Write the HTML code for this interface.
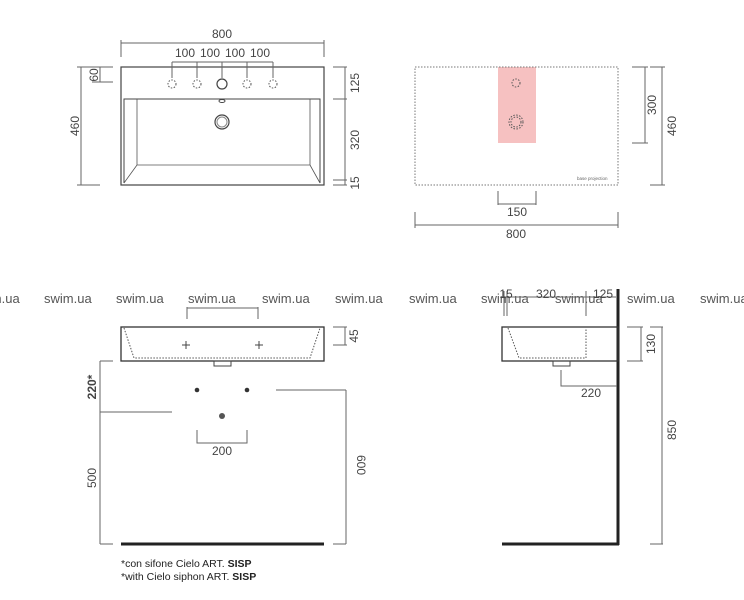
<!DOCTYPE html>
<html><head><meta charset="utf-8"><style>
html,body{margin:0;padding:0;background:#fff;}
svg{display:block;font-family:"Liberation Sans",sans-serif;}
.d{stroke:#666;stroke-width:1;fill:none}
.t{fill:#444;font-size:12px;text-anchor:middle}
.w{fill:#555;font-size:13px}
</style></head><body>
<svg width="744" height="600" viewBox="0 0 744 600" xmlns="http://www.w3.org/2000/svg">
<!-- TOP LEFT -->
<rect x="121" y="67" width="203" height="118" fill="none" stroke="#444" stroke-width="1.2"/>
<path d="M124 183 V99 H320 V183" fill="none" stroke="#444"/>
<path d="M137 99 V165 H310 V99 M124 183 L137 165 M320 183 L310 165" fill="none" stroke="#555" stroke-width="0.8"/>
<g class="d">
<path d="M121 57 V40 M324 57 V40 M121 43 H324"/>
<path d="M172 78 V62 M197 78 V62 M222 78 V62 M247 78 V62 M273 78 V62 M172 62 H273"/>
<path d="M77 67 H100 M77 185 H100 M81 67 V185"/>
<path d="M92 67 H113 M92 82 H113 M100 67 V82"/>
<path d="M333 67 H347 M333 99 H347 M333 180 H347 M333 185 H347 M345 67 V185"/>
</g>
<g stroke="#555" fill="none" stroke-dasharray="1.5 1.5"><circle cx="172" cy="84" r="4"/><circle cx="197" cy="84" r="4"/><circle cx="247" cy="84" r="4"/><circle cx="273" cy="84" r="4"/></g>
<circle cx="222" cy="84" r="5" fill="none" stroke="#444" stroke-width="1.2"/>
<ellipse cx="222" cy="101" rx="3" ry="1.5" fill="none" stroke="#444"/>
<circle cx="222" cy="122" r="7" fill="none" stroke="#444" stroke-width="1.2"/>
<circle cx="222" cy="122" r="5" fill="none" stroke="#888"/>
<text class="t" x="222" y="38">800</text>
<text class="t" x="185" y="57">100</text><text class="t" x="210" y="57">100</text><text class="t" x="235" y="57">100</text><text class="t" x="260" y="57">100</text>
<text class="t" transform="translate(79,126) rotate(-90)">460</text>
<text class="t" transform="translate(98,75) rotate(-90)">60</text>
<text class="t" transform="translate(359,83) rotate(-90)">125</text>
<text class="t" transform="translate(359,140) rotate(-90)">320</text>
<text class="t" transform="translate(359,183) rotate(-90)">15</text>
<!-- TOP RIGHT -->
<rect x="498" y="67" width="38" height="76" fill="#f6c1c1"/>
<rect x="415" y="67" width="203" height="118" fill="none" stroke="#777" stroke-dasharray="1.5 1.5"/>
<g stroke="#555" fill="none" stroke-dasharray="1.5 1.5"><circle cx="516" cy="83" r="4"/><circle cx="516" cy="122" r="7"/><circle cx="516" cy="122" r="5"/></g>
<text x="577" y="180" fill="#666" font-size="4.5">base projection</text>
<g class="d">
<path d="M632 67 H648 M632 143 H648 M645 67 V143"/>
<path d="M650 67 H665 M650 185 H665 M662 67 V185"/>
<path d="M498 191 V205 M536 191 V205 M498 204 H536"/>
<path d="M415 212 V228 M618 212 V228 M415 225 H618"/>
</g>
<text class="t" transform="translate(656,105) rotate(-90)">300</text>
<text class="t" transform="translate(676,126) rotate(-90)">460</text>
<text class="t" x="517" y="216">150</text>
<text class="t" x="516" y="238">800</text>
<!-- watermark -->
<g class="w"><text x="-28" y="303">swim.ua</text><text x="44" y="303">swim.ua</text><text x="116" y="303">swim.ua</text><text x="188" y="303">swim.ua</text><text x="262" y="303">swim.ua</text><text x="335" y="303">swim.ua</text><text x="409" y="303">swim.ua</text><text x="481" y="303">swim.ua</text><text x="555" y="303">swim.ua</text><text x="627" y="303">swim.ua</text><text x="700" y="303">swim.ua</text></g>
<!-- BOTTOM LEFT -->
<rect x="121" y="327" width="203" height="34" fill="none" stroke="#333" stroke-width="1.3"/>
<path d="M124 328 L134 358 H310 L320 328" fill="none" stroke="#555" stroke-dasharray="1.5 1.5"/>
<rect x="214" y="361" width="17" height="5" fill="none" stroke="#444"/>
<g stroke="#444"><path d="M182 345 H190 M186 341 V349 M255 345 H263 M259 341 V349"/></g>
<g class="d">
<path d="M187 319 V307 M258 319 V307 M187 308 H258"/>
<path d="M333 327 H347 M333 345 H347 M345 327 V345"/>
<path d="M100 361 H113 M100 412 H172 M100 361 V544 M100 544 H113"/>
<path d="M276 390 H346 M346 390 V544 M333 544 H346"/>
<path d="M197 430 V443 H247 V430"/>
</g>
<circle cx="197" cy="390" r="2.3" fill="#333"/><circle cx="247" cy="390" r="2.3" fill="#333"/><circle cx="222" cy="416" r="3" fill="#555"/>
<line x1="121" y1="544" x2="324" y2="544" stroke="#222" stroke-width="3"/>
<text class="t" x="222" y="455">200</text>
<text class="t" transform="translate(358,336) rotate(-90)">45</text>
<text class="t" transform="translate(357,465) rotate(90)">600</text>
<text class="t" transform="translate(96,478) rotate(-90)">500</text>
<text class="t" font-weight="bold" fill="#222" transform="translate(96,387) rotate(-90)">220*</text>
<text x="121" y="567" font-size="10.5" fill="#222">*con sifone Cielo ART. <tspan font-weight="bold">SISP</tspan></text>
<text x="121" y="580" font-size="10.5" fill="#222">*with Cielo siphon ART. <tspan font-weight="bold">SISP</tspan></text>
<!-- BOTTOM RIGHT -->
<line x1="618" y1="289" x2="618" y2="545" stroke="#222" stroke-width="3"/>
<line x1="502" y1="544" x2="619" y2="544" stroke="#222" stroke-width="3"/>
<rect x="502" y="327" width="116" height="34" fill="none" stroke="#333" stroke-width="1.3"/>
<path d="M508 328 L519 358 H586 V328" fill="none" stroke="#555" stroke-dasharray="1.5 1.5"/>
<rect x="553" y="361" width="17" height="5" fill="none" stroke="#444"/>
<g class="d">
<path d="M504 291 V316 M507 291 V316 M586 291 V316 M505 297 H616"/>
<path d="M561 370 V386 H617"/>
<path d="M627 327 H643 M627 361 H643 M641 327 V361"/>
<path d="M650 327 H663 M650 544 H663 M662 327 V544"/>
</g>
<text class="t" x="506" y="298">15</text><text class="t" x="546" y="298">320</text><text class="t" x="603" y="298">125</text>
<text class="t" x="591" y="397">220</text>
<text class="t" transform="translate(655,344) rotate(-90)">130</text>
<text class="t" transform="translate(676,430) rotate(-90)">850</text>
</svg>
</body></html>
